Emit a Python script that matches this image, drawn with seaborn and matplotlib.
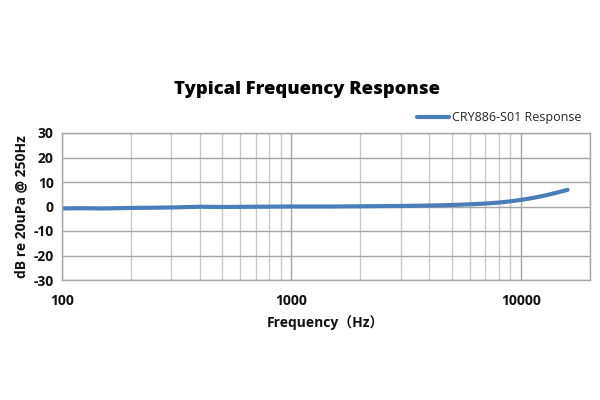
import matplotlib
matplotlib.use("Agg")
import matplotlib.pyplot as plt
import seaborn as sns
import pandas as pd
from matplotlib.ticker import LogLocator, FixedLocator, NullFormatter

freq = [100, 120, 150, 200, 300, 400, 500, 700, 1000, 1500, 2000, 3000, 4000, 5000, 6000, 7000, 8000, 9000, 10000, 11000, 12500, 14000, 16000]
resp = [-0.8, -0.7, -0.8, -0.6, -0.4, -0.1, -0.2, -0.1, 0.0, 0.0, 0.1, 0.2, 0.4, 0.6, 0.9, 1.2, 1.6, 2.1, 2.7, 3.3, 4.3, 5.4, 6.8]
series_name = "CRY886-S01 Response"
title = "Typical Frequency Response"
xlabel = "Frequency（Hz）"
ylabel = "dB re 20uPa @ 250Hz"
yticks = [-30, -20, -10, 0, 10, 20, 30]
xticks = [100, 1000, 10000]

df = pd.DataFrame({"Frequency": freq, "Response": resp, "Series": series_name})

sns.set_theme(style="white")
plt.rcParams["font.family"] = ["Open Sans", "Noto Sans CJK SC", "DejaVu Sans"]
plt.rcParams["axes.unicode_minus"] = False

fig = plt.figure(figsize=(6, 4), dpi=100)
ax = fig.add_axes([0.1033, 0.30, 0.8797, 0.3675])

sns.lineplot(data=df, x="Frequency", y="Response", hue="Series", palette=["#4a7ebb"],
             linewidth=3, ax=ax, legend=True)

ax.set_xscale("log")
ax.set_xlim(100, 20000)
ax.set_ylim(-30, 30)
ax.set_yticks(yticks)
ax.set_yticklabels([str(t) for t in yticks])
ax.xaxis.set_major_locator(FixedLocator(xticks))
ax.set_xticklabels([str(t) for t in xticks])
ax.xaxis.set_minor_locator(LogLocator(base=10, subs=range(2, 10)))
ax.xaxis.set_minor_formatter(NullFormatter())
ax.grid(True, which="major", axis="both", color="#a6a6a6", linewidth=1)
ax.grid(True, which="minor", axis="x", color="#c8c8c8", linewidth=1)
ax.tick_params(axis="both", which="both", length=0, labelsize=10, pad=6, labelcolor="#111111")
for lab in ax.get_xticklabels() + ax.get_yticklabels():
    lab.set_fontweight("bold")
ax.tick_params(axis="x", pad=10)
for s in ax.spines.values():
    s.set_color("#a6a6a6")
    s.set_linewidth(1)

ax.set_xlabel(xlabel, fontsize=10, fontweight="bold", labelpad=5, color="#111111")
ax.set_ylabel(ylabel, fontsize=10, fontweight="bold", labelpad=4, color="#111111")
fig.text(0.512, 0.777, title, ha="center", va="center", fontsize=13.2, fontweight="heavy", color="#000000")

leg = ax.legend(loc="lower right", bbox_to_anchor=(1.0, 1.0), frameon=False, fontsize=9,
                handlelength=2.6, borderaxespad=0.3, handletextpad=0.2)

fig.savefig("out.png", dpi=100)
